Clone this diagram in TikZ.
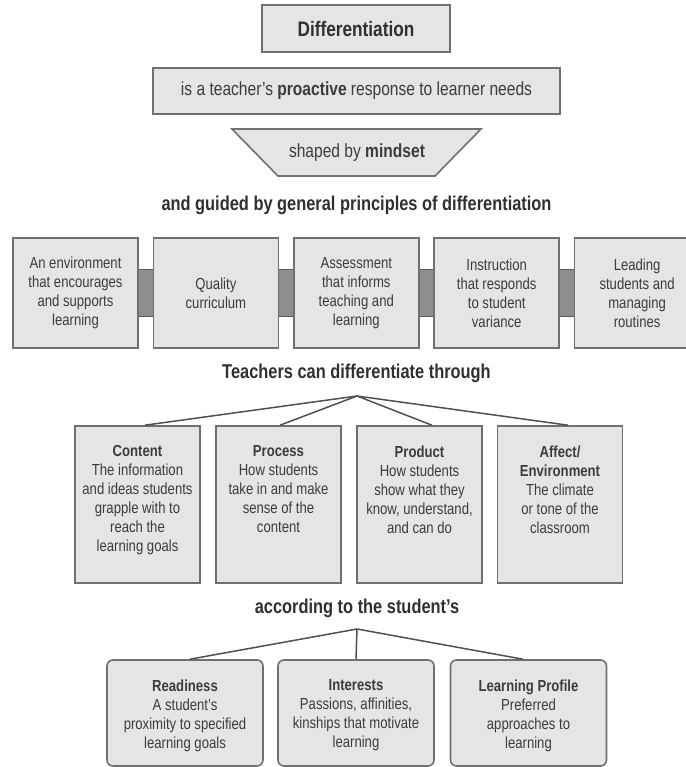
\documentclass[tikz,border=0pt]{standalone}
\usepackage{fontspec}
\setmainfont{Liberation Sans}[FakeStretch=0.82]
\usetikzlibrary{calc}
\usetikzlibrary{backgrounds}

\definecolor{boxgray}{HTML}{E5E5E5}
\definecolor{edgegray}{HTML}{707070}
\definecolor{bargray}{HTML}{8E8E8E}
\definecolor{inkgray}{HTML}{3C3C3C}

\tikzset{
    box/.style={draw=edgegray, line width=0.8pt, fill=boxgray, inner sep=0pt},
    pbox/.style={box, minimum width=62.5pt, minimum height=55pt},
    wbox/.style={box, minimum width=62.5pt, minimum height=78.5pt},
    sbox/.style={box, rounded corners=3pt, minimum width=78pt, minimum height=53pt},
    bar/.style={draw=edgegray!80!black, line width=0.6pt, fill=bargray},
    txt/.style={text=inkgray, font=\fontsize{8}{9.5}\selectfont, align=center, inner sep=0pt},
    head/.style={text=inkgray!80!black, font=\fontsize{10}{12}\selectfont\bfseries, inner sep=0pt},
    link/.style={draw=inkgray!90, line width=0.75pt},
}

\begin{document}
\begin{tikzpicture}[x=0.5pt, y=-0.5pt]
    % Frame of the picture (pixel units, y going down)
    \useasboundingbox (0,0) rectangle (686,767);
    \clip (0,0) rectangle (686,767);

    % Apex points of the two fans
    \coordinate (A1) at (357,396);
    \coordinate (A2) at (357,629);

    % Top of the chart
    \node[box, minimum width=94pt, minimum height=23.5pt, text=inkgray!80!black, font=\fontsize{10.5}{12}\selectfont\bfseries] (diff) at (356,28.5) {Differentiation};
    \node[box, minimum width=203.5pt, minimum height=23pt, txt, font=\fontsize{9.5}{11}\selectfont] (resp) at (356.5,91) {is a teacher's \textbf{proactive} response to learner needs};
    \draw[box] (232,129) -- (481,129) -- (435,176) -- (278,176) -- cycle;
    \node[txt, font=\fontsize{9.5}{11}\selectfont] (mind) at (357,153) {shaped by \textbf{mindset}};

    \node[head] (guide) at (356.5,205) {and guided by general principles of differentiation};

    % Draw the five principles
    \foreach \i/\lbl in {0/{An environment\\that encourages\\and supports\\learning},
                         1/{Quality\\curriculum},
                         2/{Assessment\\that informs\\teaching and\\learning},
                         3/{Instruction\\that responds\\to student\\variance},
                         4/{Leading\\students and\\managing\\routines}}
        \node[pbox, txt] (p\i) at ({75.5+140.4*\i},293) {\lbl};

    % Draw the bars between them
    \begin{scope}[on background layer]
        \foreach \i in {0,...,3}{
            \pgfmathtruncatemacro{\j}{\i+1}
            \draw[bar] ([xshift=-2pt, yshift=11.75pt]p\i.east) rectangle ([xshift=2pt, yshift=-11.75pt]p\j.west);
        }
    \end{scope}

    \node[head] (teach) at (356.5,373) {Teachers can differentiate through};

    % Draw the four ways
    \node[wbox] (cnt) at (137.5,504.5) {};
    \node[wbox] (prc) at (278.5,504.5) {};
    \node[wbox] (prd) at (419.5,504.5) {};
    \node[wbox] (aff) at (560,504.5) {};

    \node[txt, anchor=north] (cntT) at ($(cnt.north)+(0,20)$) {\textbf{Content}\\The information\\and ideas students\\grapple with to\\reach the\\learning goals};
    \node[txt, anchor=north] (prcT) at ($(prc.north)+(0,20)$) {\textbf{Process}\\How students\\take in and make\\sense of the\\content};
    \node[txt, anchor=north] (prdT) at ($(prd.north)+(0,20)$) {\textbf{Product}\\How students\\show what they\\know, understand,\\and can do};
    \node[txt, anchor=north] (affT) at ($(aff.north)+(0,20)$) {\textbf{Affect/}\\\textbf{Environment}\\The climate\\or tone of the\\classroom};

    \draw[link] (A1) -- ([xshift=3.75pt]cnt.north);
    \draw[link] (A1) -- ([xshift=0.75pt]prc.north);
    \draw[link] (A1) -- ([xshift=6.25pt]prd.north);
    \draw[link] (A1) -- ([xshift=4pt]aff.north);

    \node[head] (acc) at (357,608) {according to the student's};

    % Draw the student traits
    \node[sbox] (rdy) at (185,713) {};
    \node[sbox] (int) at (356,713) {};
    \node[sbox] (lrn) at (528.5,713) {};

    \node[txt, anchor=north] (rdyT) at ($(rdy.north)+(0,20)$) {\textbf{Readiness}\\A student's\\proximity to specified\\learning goals};
    \node[txt, anchor=north] (intT) at ($(int.north)+(0,20)$) {\textbf{Interests}\\Passions, affinities,\\kinships that motivate\\learning};
    \node[txt, anchor=north] (lrnT) at ($(lrn.north)+(0,20)$) {\textbf{Learning Profile}\\Preferred\\approaches to\\learning};

    \draw[link] (A2) -- ([xshift=2.5pt]rdy.north);
    \draw[link] (A2) -- (int.north);
    \draw[link] (A2) -- ([xshift=-2.75pt]lrn.north);
\end{tikzpicture}
\end{document}
